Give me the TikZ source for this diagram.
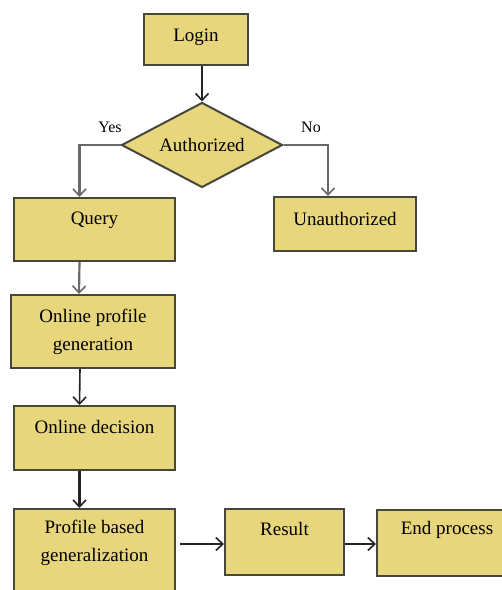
\documentclass[tikz,border=0pt]{standalone}
\usepackage{fontspec}
\setmainfont{Liberation Serif}
\usetikzlibrary{shapes.geometric,arrows.meta}
\definecolor{boxfill}{RGB}{232,214,124}
\definecolor{boxline}{RGB}{70,70,58}
\definecolor{wire}{RGB}{35,35,35}
\definecolor{wiregray}{RGB}{105,105,105}
\tikzset{
  box/.style={draw=boxline, fill=boxfill, line width=2pt, anchor=north west, inner sep=0pt},
  txt/.style={font=\fontsize{19}{28}\selectfont, align=center, inner sep=0pt},
  lbl/.style={font=\fontsize{16}{18}\selectfont, inner sep=0pt},
  flow/.style={draw=wire, line width=1.6pt, -{Straight Barb[length=7pt,width=13pt,line width=1.6pt]}},
  flowthick/.style={flow, line width=2.6pt},
  flowgray/.style={flow, draw=wiregray, line width=2.2pt}
}
\begin{document}
\begin{tikzpicture}[x=1pt,y=-1pt]
\useasboundingbox (0,0) rectangle (502,590);
\fill[white] (0,0) rectangle (502,590);

% boxes
\node[box, minimum width=104pt, minimum height=51pt] (login) at (143,13) {};
\node[diamond, aspect=1.9, draw=boxline, fill=boxfill, line width=2pt,
      minimum width=161pt, minimum height=85pt, inner sep=0pt,
      font=\fontsize{19}{20}\selectfont] (auth) at (202,145) {Authorized};
\node[box, minimum width=161pt, minimum height=63pt] (query) at (13,197) {};
\node[box, minimum width=142pt, minimum height=54pt] (unauth) at (273,196) {};
\node[box, minimum width=164pt, minimum height=73pt] (online) at (10,294) {};
\node[box, minimum width=161pt, minimum height=64pt] (decide) at (13,405) {};
\node[box, minimum width=161pt, minimum height=95pt] (general) at (13,508) {};
\node[box, minimum width=119pt, minimum height=66pt] (result) at (224,508) {};
\node[box, minimum width=140pt, minimum height=66pt] (endp) at (376,509) {};

% box texts
\node[txt] (tlogin) at ([yshift=-24pt]login.north) {Login};
\node[txt] (tquery) at ([yshift=-23pt]query.north) {Query};
\node[txt] (tunauth) at ([yshift=-23pt]unauth.north) {Unauthorized};
\node[txt] (tonline) at ([yshift=-38pt]online.north) {Online profile\\generation};
\node[txt] (tdecide) at ([yshift=-22pt]decide.north) {Online decision};
\node[txt] (tgeneral) at ([yshift=-35pt]general.north) {Profile based\\generalization};
\node[txt] (tresult) at ([yshift=-21pt]result.north) {Result};
\node[txt] (tendp) at ([yshift=-21pt]endp.north) {End process};

% branch labels
\node[lbl] (yes) at (110,127) {Yes};
\node[lbl] (no) at (311,127) {No};

% connectors
\draw[flowthick] (login.south -| auth.north) -- (auth.north);
\draw[flowgray] (auth.west) -| ([xshift=-15pt]query.north);
\draw[flowgray] (auth.east) -| ([xshift=-17pt]unauth.north);
\draw[flowgray] ([xshift=-15pt]query.south) -- ([xshift=-14pt]online.north);
\draw[flow] ([xshift=-13pt]online.south) -- ([xshift=-15pt]decide.north);
\draw[flowthick] ([xshift=-15pt]decide.south) -- ([xshift=-15pt]general.north);
\coordinate (hrow) at (0,544);
\draw[flow, shorten <=4pt] (general.east |- hrow) -- (result.west |- hrow);
\draw[flow] (result.east |- hrow) -- (endp.west |- hrow);
\end{tikzpicture}
\end{document}
